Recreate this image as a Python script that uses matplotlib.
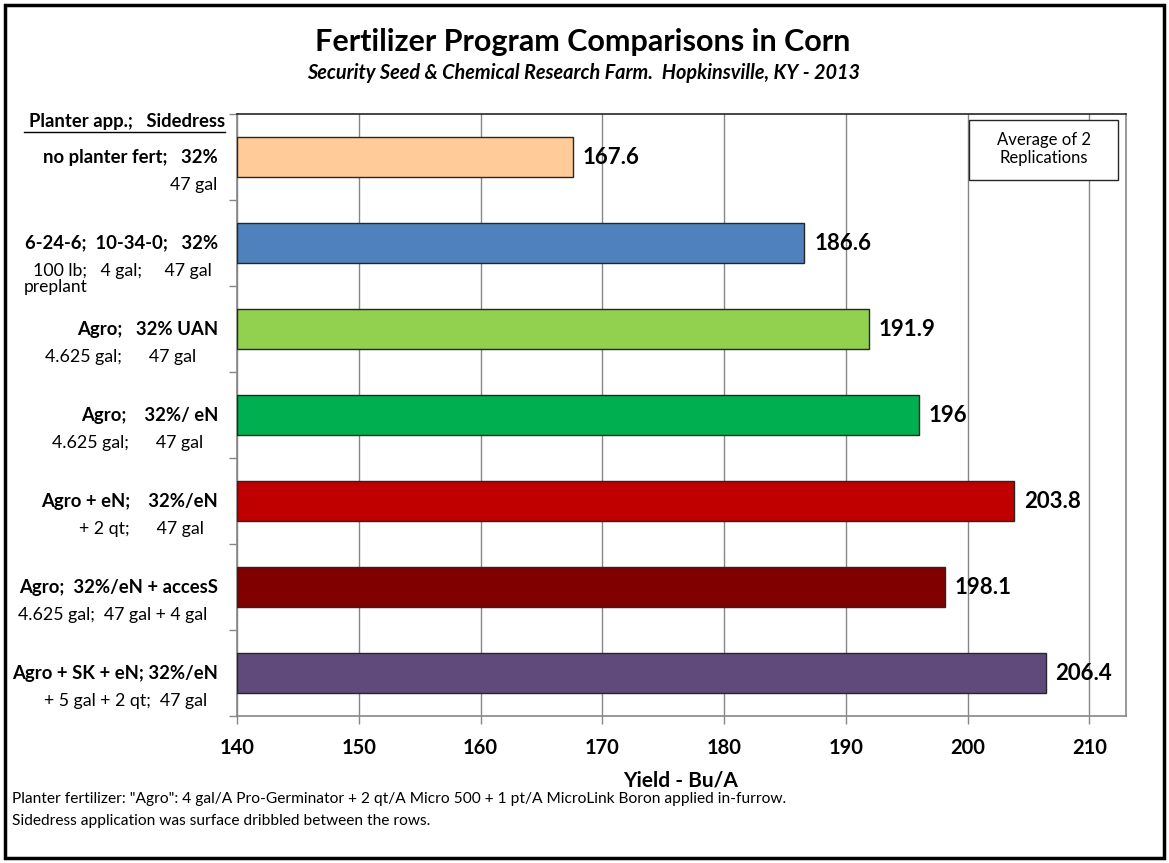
import matplotlib
matplotlib.use("Agg")
import matplotlib.pyplot as plt
from matplotlib.lines import Line2D
from matplotlib.patches import Rectangle

plt.rcParams["font.family"] = ["Lato", "DejaVu Sans"]

# treatment labels: bold first line, regular second line
LINE1 = ["no planter fert;   32%",
         "6-24-6;  10-34-0;   32%",
         "Agro;   32% UAN",
         "Agro;    32%/ eN",
         "Agro + eN;    32%/eN",
         "Agro;  32%/eN + accesS",
         "Agro + SK + eN; 32%/eN"]
LINE2 = ["47 gal",
         "100 lb;   4 gal;     47 gal",
         "4.625 gal;      47 gal",
         "4.625 gal;      47 gal",
         "+ 2 qt;      47 gal",
         "4.625 gal;  47 gal + 4 gal",
         "+ 5 gal + 2 qt;  47 gal"]
YIELD = [167.6, 186.6, 191.9, 196.0, 203.8, 198.1, 206.4]
VALUE_TEXT = ["167.6", "186.6", "191.9", "196", "203.8", "198.1", "206.4"]
COLORS = ["#FFCC99", "#4F81BD", "#92D050", "#00B050", "#C00000",
          "#800000", "#604A7B"]
XTICKS = [140, 150, 160, 170, 180, 190, 200, 210]

W, H = 1169, 863
fig = plt.figure(figsize=(W / 100, H / 100), dpi=100)


def px(x, y):
    return x / W, 1 - y / H


# plot area
L, T, R, B = 237, 114, 1126, 716
ax = fig.add_axes([L / W, 1 - B / H, (R - L) / W, (B - T) / H])
n = len(YIELD)
ypos = list(range(n))
ax.barh(ypos, [v - 140 for v in YIELD], left=140, height=0.47,
        color=COLORS, edgecolor="#262626", lw=1.0, zorder=3)
for y, v, s in zip(ypos, YIELD, VALUE_TEXT):
    ax.text(v + 0.8, y, s, va="center", ha="left", fontsize=16,
            fontweight="bold", color="black", zorder=4)

ax.set_xlim(140, 213)
ax.set_ylim(n - 0.5, -0.5)
ax.set_xticks(XTICKS)
ax.set_xticklabels([str(t) for t in XTICKS], fontsize=14.5,
                   fontweight="bold")
ax.set_yticks([i - 0.5 for i in range(n + 1)])
ax.set_yticklabels([])
ax.tick_params(axis="both", direction="out", length=6, color="#868686",
               width=1.0)
ax.tick_params(axis="x", pad=10)
ax.grid(axis="x", color="#868686", lw=1.0, zorder=0)
for sp in ax.spines.values():
    sp.set_color("#868686")
    sp.set_linewidth(1.2)
ax.spines["top"].set_color("#262626")
fig.text(*px(681, 786), "Yield - Bu/A", ha="center", va="baseline",
         fontsize=15, fontweight="bold")

# category labels left of the axis
row_h = (B - T) / n
line2_right = [217, 212, 196, 203, 204, 207, 207]
for i in range(n):
    yc = T + row_h * (i + 0.5)
    fig.text(*px(218, yc), LINE1[i], ha="right", va="center",
             fontsize=13.3, fontweight="bold")
    fig.text(*px(line2_right[i], yc + 28), LINE2[i], ha="right",
             va="center", fontsize=12.8)
fig.text(*px(24, 287), "preplant", ha="left", va="center", fontsize=12.5)

# header for the label column, underlined
fig.text(*px(225, 122), "Planter app.;   Sidedress", ha="right",
         va="center", fontsize=13.3, fontweight="bold")
fig.add_artist(Line2D([24 / W, 225 / W], [1 - 132 / H, 1 - 132 / H],
                      color="black", lw=1.0))

# note box
box = Rectangle(px(969, 180), 149 / W, 60 / H, transform=fig.transFigure,
                facecolor="white", edgecolor="#262626", lw=1.0, zorder=5)
fig.add_artist(box)
fig.text(*px(1044, 149), "Average of 2\nReplications", ha="center",
         va="center", fontsize=12, linespacing=1.15, zorder=6)

# titles
fig.text(*px(583, 42), "Fertilizer Program Comparisons in Corn",
         ha="center", va="center", fontsize=22, fontweight="bold")
fig.text(*px(584, 73),
         "Security Seed & Chemical Research Farm.  Hopkinsville, KY - 2013",
         ha="center", va="center", fontsize=14.3, fontweight="bold",
         style="italic")

# footnote
fig.text(*px(12, 799),
         'Planter fertilizer: "Agro": 4 gal/A Pro-Germinator + 2 qt/A '
         'Micro 500 + 1 pt/A MicroLink Boron applied in-furrow.',
         ha="left", va="center", fontsize=11.2)
fig.text(*px(12, 821), "Sidedress application was surface dribbled "
         "between the rows.", ha="left", va="center", fontsize=11.2)

# outer frame
fig.add_artist(Rectangle((5 / W, 5 / H), 1 - 10 / W, 1 - 10 / H,
                         transform=fig.transFigure, fill=False,
                         edgecolor="black", lw=2.5))

fig.savefig("out.png", dpi=100)
